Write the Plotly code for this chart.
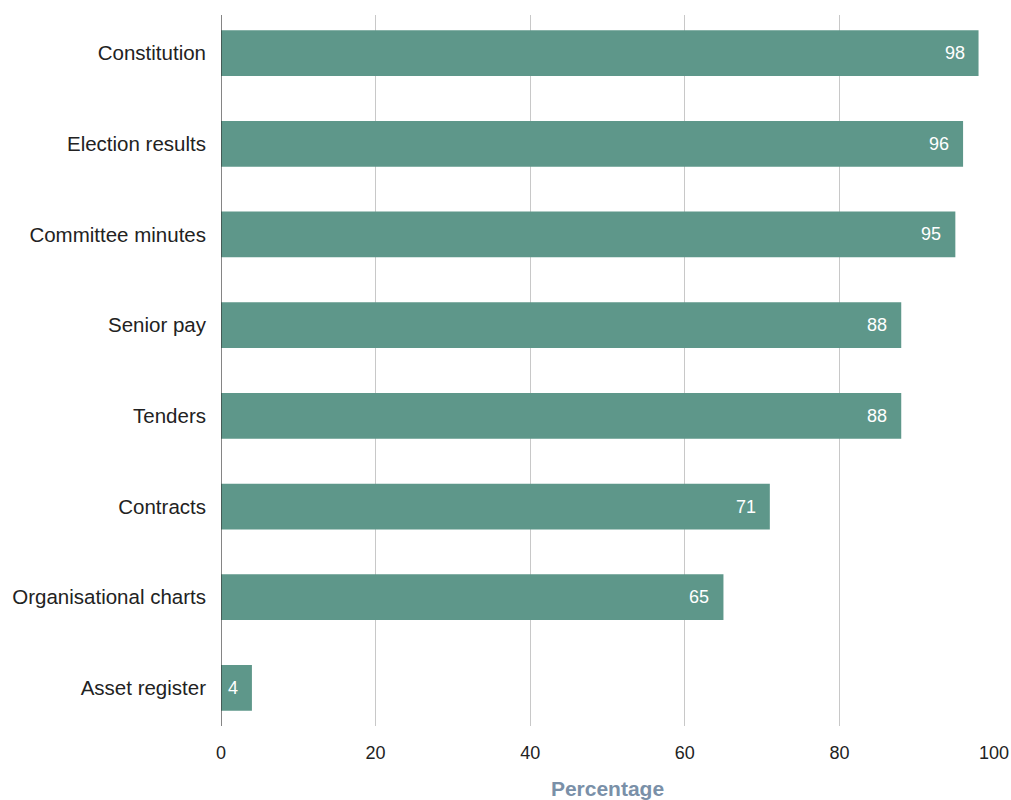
import plotly.graph_objects as go

categories = ["Constitution", "Election results", "Committee minutes", "Senior pay",
              "Tenders", "Contracts", "Organisational charts", "Asset register"]
values = [98, 96, 95, 88, 88, 71, 65, 4]
x_ticks = [0, 20, 40, 60, 80, 100]

FONT = "Helvetica Neue, Helvetica, Liberation Sans, Arial, sans-serif"
BAR_COLOR = "#5e978a"

fig = go.Figure(go.Bar(
    y=categories,
    x=values,
    orientation="h",
    marker=dict(color=BAR_COLOR, line=dict(width=0)),
    width=0.505,
    hoverinfo="skip",
))

# value labels inside the end of each bar
for cat, val in zip(categories, values):
    fig.add_annotation(
        x=val, y=cat, text=str(val), showarrow=False,
        xanchor="right", yanchor="middle", xshift=-12,
        font=dict(family=FONT, size=18, color="white"),
    )

fig.update_layout(
    template="none",
    width=1011, height=800,
    margin=dict(l=221, r=17, t=15, b=74, autoexpand=False),
    plot_bgcolor="white", paper_bgcolor="white",
    showlegend=False,
    font=dict(family=FONT),
    xaxis=dict(
        automargin=False,
        range=[0, 100], tickvals=x_ticks, ticktext=[str(t) for t in x_ticks],
        showgrid=True, gridcolor="#c8c8c8", gridwidth=1,
        zeroline=False, showline=False, ticks="", ticklabelstandoff=14,
        tickfont=dict(family=FONT, size=18, color="#222222"),
        title=dict(text="<b>Percentage</b>", standoff=22,
                   font=dict(family=FONT, size=21, color="#7a90a8")),
    ),
    yaxis=dict(
        automargin=False,
        categoryorder="array", categoryarray=categories,
        range=[7.42, -0.42], showgrid=False, zeroline=False,
        showline=False, ticks="", ticklabelstandoff=14,
        tickfont=dict(family=FONT, size=20.5, color="#222222"),
    ),
)

# vertical baseline at zero
fig.add_shape(type="line", xref="x", yref="paper", x0=0, x1=0, y0=0, y1=1,
              line=dict(color="#333333", width=1.2))

fig.write_html("out.html")
